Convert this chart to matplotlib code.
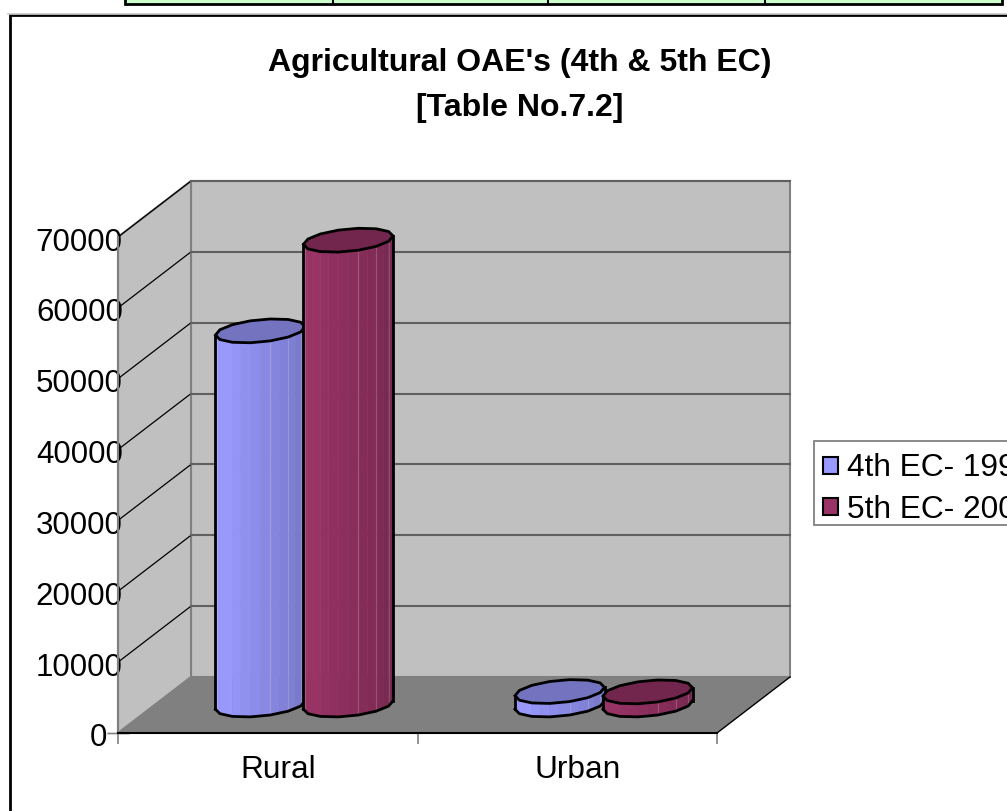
import numpy as np
import matplotlib
matplotlib.use('Agg')
import matplotlib.pyplot as plt
from matplotlib.patches import Rectangle, Polygon
from matplotlib.transforms import ScaledTranslation

plt.rcParams['font.family'] = ['Liberation Sans', 'DejaVu Sans']

title_lines = ["Agricultural OAE's (4th & 5th EC)", "[Table No.7.2]"]
categories = ['Rural', 'Urban']
series_names = ['4th EC- 199', '5th EC- 200']
ec4_values = [52800, 1900]
ec5_values = [65600, 1850]
y_ticks = [0, 10000, 20000, 30000, 40000, 50000, 60000, 70000]

colors = ['#9999FF', '#993366']
top_colors = ['#7373BF', '#73264D']
WALL = '#C0C0C0'
FLOOR = '#808080'

W, H = 1007, 811
fig = plt.figure(figsize=(W / 100, H / 100), dpi=100, facecolor='white')

# background layer in pixels: table remains + chart frame + legend box
bg = fig.add_axes([0, 0, 1, 1], zorder=0)
bg.set_xlim(0, W)
bg.set_ylim(H, 0)
bg.axis('off')
bg.add_patch(Rectangle((125, -5), 877, 9, fc='#CCFFCC', ec='black', lw=2))
for x in [333, 548, 765]:
    bg.plot([x, x], [-5, 4], color='black', lw=1.5)
bg.plot([8, W], [13.5, 13.5], color='#C8C8C8', lw=1.2)
bg.add_patch(Rectangle((9.5, 15), W + 20, H + 20, fc='white', ec='black', lw=2))
bg.add_patch(Rectangle((814, 441), W, 84, fc='white', ec=FLOOR, lw=1.3))

ax = fig.add_axes([118 / W, 1 - 733 / H, 599 / W, 496 / H], zorder=1)
ax.set_xlim(0, 2)
ax.set_ylim(0, 70000)
ax.patch.set_visible(False)

# oblique depth of the 3d box, in data units
DX = 73 / 299.5
DY = 56 * 70000 / 496


def proj(x, v, d):
    return x + d * DX, v + d * DY


def poly(points, **kw):
    ax.add_patch(Polygon(points, closed=True, clip_on=False, **kw))


# walls and floor
poly([proj(0, 0, 1), proj(2, 0, 1), proj(2, 70000, 1), proj(0, 70000, 1)],
     fc=WALL, ec=FLOOR, lw=1.5, zorder=1)
poly([proj(0, 0, 0), proj(0, 0, 1), proj(0, 70000, 1), proj(0, 70000, 0)],
     fc=WALL, ec=FLOOR, lw=1.5, zorder=1)
poly([proj(0, 0, 0), proj(2, 0, 0), proj(2, 0, 1), proj(0, 0, 1)],
     fc=FLOOR, ec='none', zorder=1.5)
ax.plot(*zip(proj(2, 0, 0), proj(2, 0, 1)), color='black', lw=1, clip_on=False, zorder=2)

for t in y_ticks[1:]:
    a, b, c = proj(0, t, 0), proj(0, t, 1), proj(2, t, 1)
    ax.plot(*zip(a, b), color='black', lw=0.9, clip_on=False, zorder=2)
    ax.plot(*zip(b, c), color='#606060', lw=1.5, clip_on=False, zorder=2)

# cylinders, faceted like the original
HALF_W = 42 / 299.5
OFFSET = 44 / 299.5
HALF_D = 12 / 56
t0 = np.arctan2(HALF_D * DX * 299.5, HALF_W * 299.5)


def ring(xc, v, angles):
    return [proj(xc + HALF_W * np.cos(t), v, 0.5 + HALF_D * np.sin(t)) for t in angles]


def shade(color, f):
    rgb = np.array(matplotlib.colors.to_rgb(color))
    return tuple(rgb * f)


def cylinder(xc, v, color, top_color, z):
    front = np.linspace(t0 - np.pi, t0, 15)
    back = np.linspace(t0, t0 + np.pi, 8)[1:-1]
    low = ring(xc, 0, front)
    high = ring(xc, v, front)
    for i in range(len(front) - 1):
        f = np.interp(i / (len(front) - 2), [0, 0.2, 1], [0.97, 1.0, 0.75])
        poly([low[i], low[i + 1], high[i + 1], high[i]],
             fc=shade(color, f), ec=shade(color, f), lw=0.3, zorder=z)
    # pale seams between some facets
    for i in [1, 8, 10, 12]:
        ax.plot(*zip(low[i], high[i]), color='white', alpha=0.18, lw=0.9, clip_on=False, zorder=z)
    ax.plot(*zip(*low[::2]), color='black', lw=2, clip_on=False, zorder=z + 0.1)
    ax.plot(*zip(low[0], high[0]), color='black', lw=2, clip_on=False, zorder=z + 0.1)
    ax.plot(*zip(low[-1], high[-1]), color='black', lw=2, clip_on=False, zorder=z + 0.1)
    poly(high[::2] + ring(xc, v, back), fc=top_color, ec='black', lw=2, zorder=z + 0.2)


z = 3
for i, cat in enumerate(categories):
    cylinder(i + 0.5 - OFFSET, ec4_values[i], colors[0], top_colors[0], z)
    cylinder(i + 0.5 + OFFSET, ec5_values[i], colors[1], top_colors[1], z + 1)
    z += 2

# axes
for s in ['top', 'right']:
    ax.spines[s].set_visible(False)
ax.spines['left'].set_color(FLOOR)
ax.spines['left'].set_linewidth(1.5)
ax.spines['left'].set_zorder(2)
ax.spines['bottom'].set_color('black')
ax.spines['bottom'].set_linewidth(1.5)
ax.spines['bottom'].set_zorder(2)

ax.set_yticks(y_ticks)
ax.set_yticklabels([str(t) for t in y_ticks], fontsize=22.5, color='black')
ax.set_xticks([0.5, 1.5])
ax.set_xticklabels(categories, fontsize=22.8, color='black')
ax.set_xticks([0, 1, 2], minor=True)
ax.tick_params(axis='x', which='major', length=0, pad=16)
ax.tick_params(axis='x', which='minor', length=8, width=1.2, color=FLOOR)
ax.tick_params(axis='y', length=0, pad=-3.5)
ax.plot([0, 0], [0, 0], marker='_', ms=16, color=FLOOR, clip_on=False, zorder=2)

# labels are off their ticks a bit in the original
for lab in ax.get_xticklabels():
    lab.set_transform(lab.get_transform() + ScaledTranslation(0.1, 0, fig.dpi_scale_trans))
for tick in ax.yaxis.get_major_ticks():
    tick.label1.set_zorder(10)
    dx = -0.16 if tick is ax.yaxis.get_major_ticks()[0] else 0
    tick.label1.set_transform(tick.label1.get_transform() + ScaledTranslation(dx, -0.02, fig.dpi_scale_trans))

fig.text(520 / W, 1 - 71 / H, title_lines[0], fontsize=23, fontweight='bold', ha='center', va='baseline')
fig.text(520 / W, 1 - 116 / H, title_lines[1], fontsize=23, fontweight='bold', ha='center', va='baseline')

# legend runs off the right edge like the original
handles = [Rectangle((0, 0), 1, 1, fc=c, ec='black', lw=1.5) for c in colors]
leg = ax.legend(handles, series_names, loc='upper left',
                bbox_to_anchor=(813.5 / W, 1 - 444 / H), bbox_transform=fig.transFigure,
                fontsize=22.8, frameon=False, borderaxespad=0, borderpad=0.3, handlelength=0.46,
                handleheight=0.46, handletextpad=0.3, labelspacing=0.35, labelcolor='black')
leg.set_zorder(20)

fig.savefig('out.png', dpi=100)
